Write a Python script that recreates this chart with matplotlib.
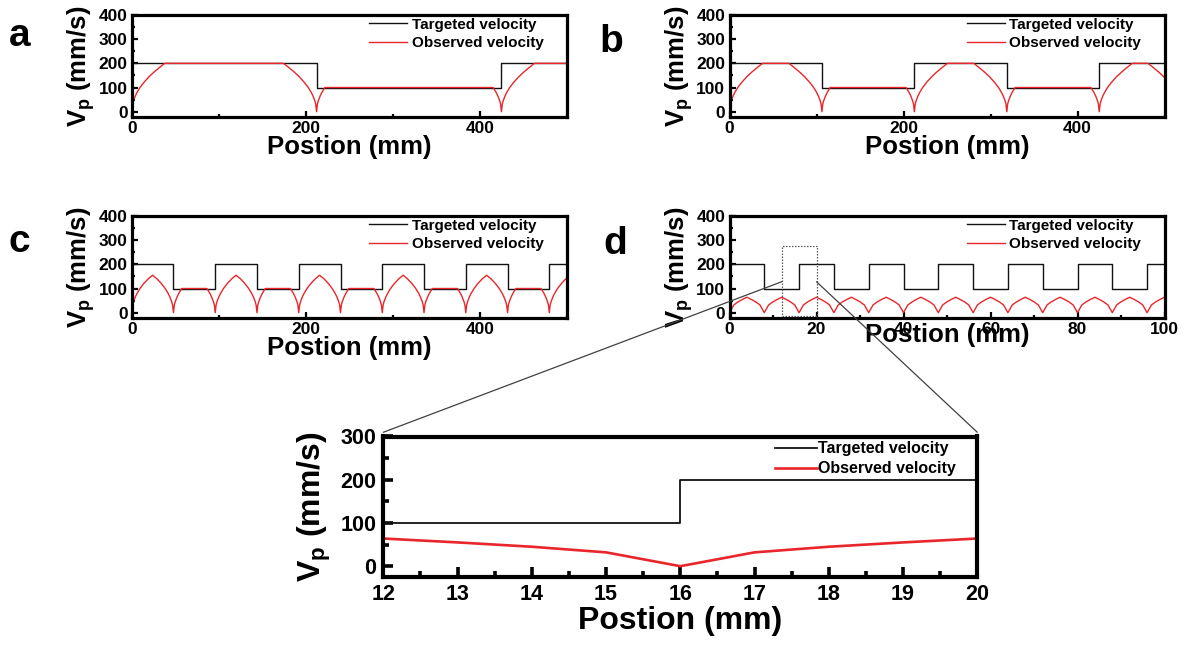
import numpy as np
import matplotlib
matplotlib.use("Agg")
import matplotlib.pyplot as plt
from matplotlib.ticker import MultipleLocator
from matplotlib.patches import Rectangle, ConnectionPatch

plt.rcParams['font.family'] = ['Liberation Sans', 'DejaVu Sans']
plt.rcParams['font.weight'] = 'bold'
plt.rcParams['mathtext.fontset'] = 'custom'
plt.rcParams['mathtext.rm'] = 'Liberation Sans'
plt.rcParams['mathtext.bf'] = 'Liberation Sans:bold'
plt.rcParams['mathtext.it'] = 'Liberation Sans:italic'

# ---------------- data ----------------
# panel a
a_tgt_x = [0, 212.5, 425, 500]
a_tgt_y = [200, 100, 200, 200]
a_obs_x = [0, 1, 2, 4, 6, 9.5, 14, 20, 26, 32, 38,
           174.5,
           180.5, 186.5, 192.5, 198.5, 203, 206.5, 208.5, 210.5, 211.5, 212.5,
           213.5, 214.5, 216.5, 218.5, 222,
           415.5,
           419, 421, 423, 424, 425,
           426, 427, 429, 431, 434.5, 439, 445, 451, 457, 463,
           500]
a_obs_y = [0, 32, 45, 64, 79, 100, 121, 145, 165, 183, 200,
           200,
           183, 165, 145, 121, 100, 79, 64, 45, 32, 0,
           32, 45, 64, 79, 100,
           100,
           79, 64, 45, 32, 0,
           32, 45, 64, 79, 100, 121, 145, 165, 183, 200,
           200]

# panel b
b_tgt_x = [0, 106.25, 212.5, 318.75, 425, 500]
b_tgt_y = [200, 100, 200, 100, 200, 200]
b_obs_x = [0, 1, 2, 4, 6, 9.5, 14, 20, 26, 32, 38,
           68.25,
           74.25, 80.25, 86.25, 92.25, 96.75, 100.25, 102.25, 104.25, 105.25, 106.25,
           107.25, 108.25, 110.25, 112.25, 115.75,
           203,
           206.5, 208.5, 210.5, 211.5, 212.5,
           213.5, 214.5, 216.5, 218.5, 222, 226.5, 232.5, 238.5, 244.5, 250.5,
           280.75,
           286.75, 292.75, 298.75, 304.75, 309.25, 312.75, 314.75, 316.75, 317.75, 318.75,
           319.75, 320.75, 322.75, 324.75, 328.25,
           415.5,
           419, 421, 423, 424, 425,
           426, 427, 429, 431, 434.5, 439, 445, 451, 457, 463,
           481,
           487, 493, 499, 500]
b_obs_y = [0, 32, 45, 64, 79, 100, 121, 145, 165, 183, 200,
           200,
           183, 165, 145, 121, 100, 79, 64, 45, 32, 0,
           32, 45, 64, 79, 100,
           100,
           79, 64, 45, 32, 0,
           32, 45, 64, 79, 100, 121, 145, 165, 183, 200,
           200,
           183, 165, 145, 121, 100, 79, 64, 45, 32, 0,
           32, 45, 64, 79, 100,
           100,
           79, 64, 45, 32, 0,
           32, 45, 64, 79, 100, 121, 145, 165, 183, 200,
           200,
           183, 165, 145, 141]

# panel c
c_tgt_x = [0, 48, 96, 144, 192, 240, 288, 336, 384, 432, 480, 500]
c_tgt_y = [200, 100, 200, 100, 200, 100, 200, 100, 200, 100, 200, 200]
c_obs_x = [0, 1, 2, 4, 6, 9.5, 14, 19, 24, 29, 34, 38.5, 42, 44, 46, 47,
           48, 49, 50, 52, 54, 57.5, 86.5, 90, 92, 94, 95,
           96, 97, 98, 100, 102, 105.5, 110, 115, 120, 125, 130, 134.5, 138, 140, 142, 143,
           144, 145, 146, 148, 150, 153.5, 182.5, 186, 188, 190, 191,
           192, 193, 194, 196, 198, 201.5, 206, 211, 216, 221, 226, 230.5, 234, 236, 238, 239,
           240, 241, 242, 244, 246, 249.5, 278.5, 282, 284, 286, 287,
           288, 289, 290, 292, 294, 297.5, 302, 307, 312, 317, 322, 326.5, 330, 332, 334, 335,
           336, 337, 338, 340, 342, 345.5, 374.5, 378, 380, 382, 383,
           384, 385, 386, 388, 390, 393.5, 398, 403, 408, 413, 418, 422.5, 426, 428, 430, 431,
           432, 433, 434, 436, 438, 441.5, 470.5, 474, 476, 478, 479,
           480, 481, 482, 484, 486, 489.5, 494, 499, 500]
c_obs_y = [0, 32, 45, 64, 79, 100, 121, 140, 155, 140, 121, 100, 79, 64, 45, 32,
           0, 32, 45, 64, 79, 100, 100, 79, 64, 45, 32,
           0, 32, 45, 64, 79, 100, 121, 140, 155, 140, 121, 100, 79, 64, 45, 32,
           0, 32, 45, 64, 79, 100, 100, 79, 64, 45, 32,
           0, 32, 45, 64, 79, 100, 121, 140, 155, 140, 121, 100, 79, 64, 45, 32,
           0, 32, 45, 64, 79, 100, 100, 79, 64, 45, 32,
           0, 32, 45, 64, 79, 100, 121, 140, 155, 140, 121, 100, 79, 64, 45, 32,
           0, 32, 45, 64, 79, 100, 100, 79, 64, 45, 32,
           0, 32, 45, 64, 79, 100, 121, 140, 155, 140, 121, 100, 79, 64, 45, 32,
           0, 32, 45, 64, 79, 100, 100, 79, 64, 45, 32,
           0, 32, 45, 64, 79, 100, 121, 140, 143]

# panel d (and zoomed panel), 1 mm samples
d_tgt_x = [0, 8, 16, 24, 32, 40, 48, 56, 64, 72, 80, 88, 96, 100]
d_tgt_y = [200, 100, 200, 100, 200, 100, 200, 100, 200, 100, 200, 100, 200, 200]
d_obs_x = list(range(0, 101))
d_obs_y = [0, 32, 45, 55, 64, 55, 45, 32,
           0, 32, 45, 55, 64, 55, 45, 32,
           0, 32, 45, 55, 64, 55, 45, 32,
           0, 32, 45, 55, 64, 55, 45, 32,
           0, 32, 45, 55, 64, 55, 45, 32,
           0, 32, 45, 55, 64, 55, 45, 32,
           0, 32, 45, 55, 64, 55, 45, 32,
           0, 32, 45, 55, 64, 55, 45, 32,
           0, 32, 45, 55, 64, 55, 45, 32,
           0, 32, 45, 55, 64, 55, 45, 32,
           0, 32, 45, 55, 64, 55, 45, 32,
           0, 32, 45, 55, 64, 55, 45, 32,
           0, 32, 45, 55, 64]

legend_labels = ["Targeted velocity", "Observed velocity"]
xlabel_text = "Postion (mm)"
ylabel_text = r"$\mathbf{V_p}$ (mm/s)"

RED = '#e8262b'
BLK = '#111111'

W, H = 1184, 646
fig = plt.figure(figsize=(W / 100, H / 100), dpi=100)


def make_ax(l, t, r, b):
    return fig.add_axes([l / W, 1 - b / H, (r - l) / W, (b - t) / H])


def style_small(ax, xmaj, xmin, xmax):
    ax.set_xlim(0, xmax)
    ax.set_ylim(-22, 400)
    ax.xaxis.set_major_locator(MultipleLocator(xmaj))
    ax.xaxis.set_minor_locator(MultipleLocator(xmin))
    ax.yaxis.set_major_locator(MultipleLocator(100))
    ax.yaxis.set_minor_locator(MultipleLocator(50))
    ax.tick_params(which='both', direction='in', top=False, right=False,
                   labelsize=12.5, width=1.6, pad=3)
    ax.tick_params(which='major', length=4.5)
    ax.tick_params(which='minor', length=2.5)
    for s in ax.spines.values():
        s.set_linewidth(2.3)
    ax.set_xlabel(xlabel_text, fontsize=18.5, fontweight='bold', labelpad=-1)
    ax.set_ylabel(ylabel_text, fontsize=18.5, fontweight='bold', labelpad=1)
    ax.legend(loc='upper left', bbox_to_anchor=(0.545, 0.975), frameon=False,
              handlelength=2.5, handletextpad=0.3,
              labelspacing=0.3, borderpad=0, borderaxespad=0,
              prop={'weight': 'bold', 'size': 11})


def draw(ax, tx, ty, ox, oy, lw_t=1.0, lw_o=1.0):
    ax.step(tx, ty, where='post', color=BLK, lw=lw_t, label=legend_labels[0])
    ax.plot(ox, oy, color=RED, lw=lw_o, label=legend_labels[1])


ax_a = make_ax(131.7, 15, 566.7, 117)
draw(ax_a, a_tgt_x, a_tgt_y, a_obs_x, a_obs_y)
style_small(ax_a, 200, 100, 500)

ax_b = make_ax(729.5, 15, 1164.5, 117)
draw(ax_b, b_tgt_x, b_tgt_y, b_obs_x, b_obs_y)
style_small(ax_b, 200, 100, 500)

ax_c = make_ax(131.7, 216, 566.7, 318)
draw(ax_c, c_tgt_x, c_tgt_y, c_obs_x, c_obs_y)
style_small(ax_c, 200, 100, 500)

ax_d = make_ax(729.5, 216, 1164.5, 318)
draw(ax_d, d_tgt_x, d_tgt_y, d_obs_x, d_obs_y)
style_small(ax_d, 20, 10, 100)
ax_d.xaxis.labelpad = -10

# zoom rectangle on d
ax_d.add_patch(Rectangle((12, -15), 8, 290, fill=False, linestyle=(0, (1.2, 1.2)),
                         lw=0.9, edgecolor='0.35', clip_on=False, zorder=5))

# zoomed panel
ax_e = make_ax(383.3, 436.5, 977.3, 577)
draw(ax_e, d_tgt_x, d_tgt_y, d_obs_x, d_obs_y, lw_t=1.3, lw_o=1.9)
ax_e.set_xlim(12, 20)
ax_e.set_ylim(-25, 300)
ax_e.xaxis.set_major_locator(MultipleLocator(1))
ax_e.xaxis.set_minor_locator(MultipleLocator(0.5))
ax_e.yaxis.set_major_locator(MultipleLocator(100))
ax_e.yaxis.set_minor_locator(MultipleLocator(50))
ax_e.tick_params(which='both', direction='in', top=False, right=False,
                 labelsize=15.5, width=2.6, pad=5)
ax_e.tick_params(which='major', length=7)
ax_e.tick_params(which='minor', length=4)
for s in ax_e.spines.values():
    s.set_linewidth(3.0)
ax_e.set_xlabel(xlabel_text, fontsize=23, fontweight='bold', labelpad=1)
ax_e.set_ylabel(ylabel_text, fontsize=23, fontweight='bold', labelpad=5)
ax_e.legend(loc='upper left', bbox_to_anchor=(0.66, 0.965), frameon=False,
            handlelength=2.6, handletextpad=0.1, labelspacing=0.3,
            borderpad=0, borderaxespad=0, prop={'weight': 'bold', 'size': 11.5})

# connecting lines
for xa, xb in [(12, 0.0), (20, 1.0)]:
    con = ConnectionPatch(xyA=(xa, 128), coordsA=ax_d.transData,
                          xyB=(xb, 1.03), coordsB=ax_e.transAxes,
                          color='0.25', lw=0.9)
    fig.add_artist(con)

# panel letters
for lab, x, y in [('a', 9, 46), ('b', 599, 52), ('c', 9, 252), ('d', 603, 254)]:
    fig.text(x / W, 1 - y / H, lab, fontsize=28, fontweight='bold',
             ha='left', va='baseline')

fig.savefig('out.png', dpi=100)
